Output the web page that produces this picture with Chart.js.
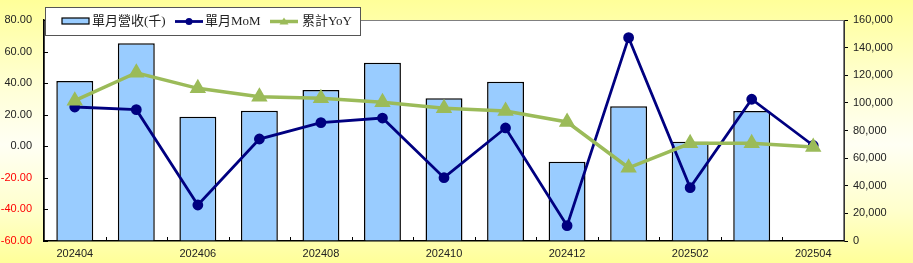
<!DOCTYPE html>
<html>
<head>
<meta charset="utf-8">
<script src="https://cdn.jsdelivr.net/npm/chart.js@4"></script>
<style>
  html, body { margin: 0; padding: 0; }
  body {
    width: 913px; height: 263px; overflow: hidden;
    background: linear-gradient(to bottom, #ffff99 0%, #ffffd8 35%, #fffff4 55%, #ffffcc 80%, #ffff99 100%);
  }
  canvas { display: block; }
</style>
</head>
<body>
<canvas id="chart" width="913" height="263"></canvas>
<script>
// Data
const months = ['202404', '202405', '202406', '202407', '202408', '202409', '202410',
  '202411', '202412', '202501', '202502', '202503', '202504'];
const revenue = [115800, 143100, 90000, 94300, 109300, 129100, 103300, 115300, 57400, 97500, 71900, 94100, null];
const mom = [24.9, 23.2, -37.2, 4.6, 15.0, 17.9, -19.9, 11.6, -50.3, 68.8, -26.2, 29.8, 0.5];
const yoy = [28.9, 46.6, 36.7, 31.4, 30.4, 27.9, 24.1, 22.4, 15.4, -13.6, 1.9, 1.9, -0.5];
const leftTicks = [-60, 80, 20];
const rightTicks = [0, 160000, 20000];

const tickFont = { family: '"Liberation Sans", Arial, sans-serif', size: 11 };
const legendFont = '13px "Liberation Serif", "Noto Sans CJK TC", serif';

// White plot area with a gray frame, plus inward tick marks
const plotArea = {
  id: 'plotArea',
  beforeDraw(chart) {
    const { ctx, chartArea: a } = chart;
    ctx.save();
    ctx.fillStyle = '#ffffff';
    ctx.fillRect(a.left, a.top, a.right - a.left, a.bottom - a.top);
    ctx.strokeStyle = '#808080';
    ctx.lineWidth = 1;
    ctx.strokeRect(a.left + 0.5, a.top + 0.5, a.right - a.left - 1, a.bottom - a.top - 1);
    ctx.restore();
  },
  beforeDatasetsDraw(chart) {
    const { ctx, chartArea: a, scales } = chart;
    ctx.save();
    ctx.strokeStyle = '#000';
    ctx.lineWidth = 1;
    ctx.beginPath();
    // x: marks between categories
    const step = scales.x.getPixelForValue(1) - scales.x.getPixelForValue(0);
    for (let i = 1; i < months.length; i++) {
      const px = Math.round(scales.x.getPixelForValue(i) - step / 2) + 0.5;
      ctx.moveTo(px, a.bottom);
      ctx.lineTo(px, a.bottom - 4);
    }
    // left y
    scales.y.ticks.forEach((t) => {
      const py = Math.round(scales.y.getPixelForValue(t.value)) + 0.5;
      ctx.moveTo(a.left, py);
      ctx.lineTo(a.left + 4, py);
    });
    ctx.stroke();
    ctx.restore();
  }
};

// Boxed legend in the top left corner
const boxLegend = {
  id: 'boxLegend',
  afterDraw(chart) {
    const ctx = chart.ctx;
    const ds = chart.data.datasets;
    ctx.save();
    ctx.fillStyle = '#ffffff';
    ctx.fillRect(45, 7, 315, 28);
    ctx.strokeStyle = '#555555';
    ctx.lineWidth = 1;
    ctx.strokeRect(45.5, 7.5, 315, 28);
    ctx.font = legendFont;
    ctx.textBaseline = 'middle';
    const cy = 21.5;
    // bar swatch
    ctx.fillStyle = ds[0].backgroundColor;
    ctx.fillRect(62, 18, 27, 6);
    ctx.strokeStyle = '#000';
    ctx.lineWidth = 1.2;
    ctx.strokeRect(62, 18, 27, 6);
    ctx.fillStyle = '#222222';
    ctx.fillText(ds[0].label, 92, cy);
    // line swatches
    const items = [[ds[1], 175, 205], [ds[2], 270, 302]];
    items.forEach(([d, x0, tx]) => {
      ctx.strokeStyle = d.borderColor;
      ctx.lineWidth = d.borderWidth;
      ctx.beginPath();
      ctx.moveTo(x0, cy);
      ctx.lineTo(x0 + 28, cy);
      ctx.stroke();
      ctx.fillStyle = d.pointBackgroundColor;
      const cx = x0 + 14;
      if (d.pointStyle === 'triangle') {
        ctx.beginPath();
        ctx.moveTo(cx, cy - 4);
        ctx.lineTo(cx + 4.5, cy + 3);
        ctx.lineTo(cx - 4.5, cy + 3);
        ctx.closePath();
        ctx.fill();
      } else {
        ctx.beginPath();
        ctx.arc(cx, cy, 3.5, 0, Math.PI * 2);
        ctx.fill();
      }
      ctx.fillStyle = '#222222';
      ctx.fillText(d.label, tx, cy);
    });
    ctx.restore();
  }
};

const ctx = document.getElementById('chart').getContext('2d');
new Chart(ctx, {
  data: {
    labels: months,
    datasets: [
      {
        type: 'bar',
        label: '單月營收(千)',
        data: revenue,
        yAxisID: 'y1',
        backgroundColor: '#99ccff',
        borderColor: '#000000',
        borderWidth: 1.5,
        barPercentage: 0.6,
        categoryPercentage: 1,
        order: 3
      },
      {
        type: 'line',
        label: '單月MoM',
        data: mom,
        yAxisID: 'y',
        borderColor: '#000080',
        borderWidth: 2.8,
        pointStyle: 'circle',
        pointRadius: 4,
        pointBackgroundColor: '#000080',
        pointBorderColor: '#000080',
        tension: 0,
        order: 2
      },
      {
        type: 'line',
        label: '累計YoY',
        data: yoy,
        yAxisID: 'y',
        borderColor: '#9bbb59',
        borderWidth: 3.5,
        pointStyle: 'triangle',
        pointRadius: 6,
        pointBackgroundColor: '#9bbb59',
        pointBorderColor: '#9bbb59',
        tension: 0,
        order: 1
      }
    ]
  },
  options: {
    responsive: false,
    animation: false,
    layout: { padding: { top: 20, left: 0, right: 0, bottom: 0 } },
    plugins: {
      legend: { display: false },
      tooltip: { enabled: false }
    },
    scales: {
      x: {
        offset: true,
        grid: { display: true, drawOnChartArea: false, drawTicks: false, offset: true, color: '#000' },
        border: { color: '#000', width: 1.5 },
        ticks: {
          autoSkip: false,
          maxRotation: 0,
          color: '#222',
          font: tickFont,
          padding: 6,
          callback: (v, i) => (i % 2 === 0 ? months[i] : '')
        },
        afterFit: (s) => { s.height = 22; }
      },
      y: {
        position: 'left',
        min: leftTicks[0],
        max: leftTicks[1],
        grid: { display: true, drawOnChartArea: false, drawTicks: false, color: '#000' },
        border: { color: '#000', width: 1.5 },
        ticks: {
          stepSize: leftTicks[2],
          font: tickFont,
          padding: 12,
          color: (c) => (c.tick && c.tick.value < 0 ? '#ff0000' : '#222'),
          callback: (v) => v.toFixed(2)
        },
        afterFit: (s) => { s.width = 44; }
      },
      y1: {
        position: 'right',
        min: rightTicks[0],
        max: rightTicks[1],
        grid: { display: true, drawOnChartArea: false, drawTicks: true, tickLength: 4, color: '#000' },
        border: { color: '#333', width: 1 },
        ticks: {
          stepSize: rightTicks[2],
          font: tickFont,
          padding: 5,
          color: '#222',
          callback: (v) => v.toLocaleString('en-US')
        },
        afterFit: (s) => { s.width = 69; }
      }
    }
  },
  plugins: [plotArea, boxLegend]
});
</script>
</body>
</html>
